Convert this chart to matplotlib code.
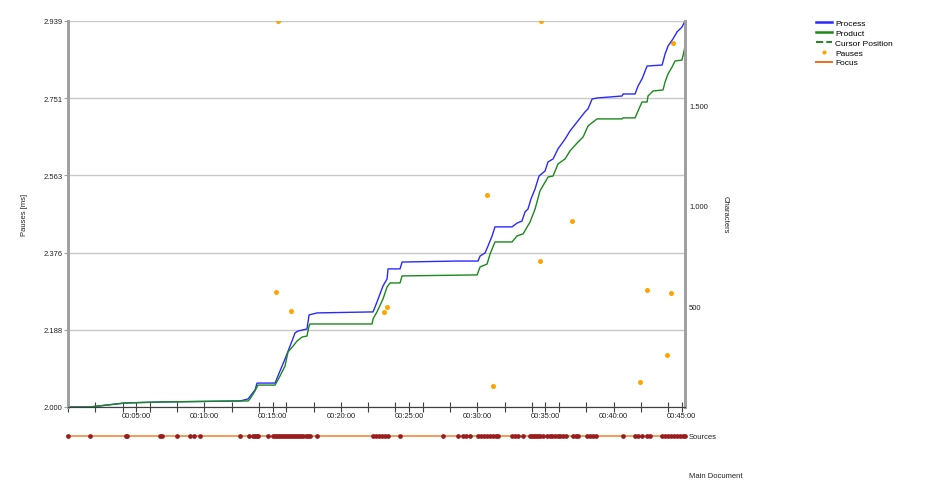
import numpy as np
import matplotlib
matplotlib.use('Agg')
import matplotlib.pyplot as plt
from matplotlib.ticker import FuncFormatter, MultipleLocator
from matplotlib.lines import Line2D

plt.rcParams['font.family'] = ['Liberation Sans', 'DejaVu Sans']

# time in minutes, characters
proc_t = [0.00, 1.61, 4.18, 6.74, 12.61, 13.20, 13.71, 13.86, 15.18, 15.54, 15.91, 16.42, 16.64, 16.86,
          17.52, 17.67, 18.26, 22.36, 22.65, 23.09, 23.39, 23.46, 24.34, 24.49, 28.52, 30.06, 30.21,
          30.57, 30.79, 31.09, 31.30, 32.55, 32.92, 33.28, 33.50, 33.72, 33.94, 34.24, 34.53, 34.97,
          35.19, 35.56, 35.92, 36.44, 36.80, 37.32, 37.90, 38.12, 38.42, 38.78, 40.62, 40.69, 41.57,
          41.79, 42.08, 42.45, 43.55, 43.77, 43.99, 44.35, 44.65, 45.01, 45.23]
proc_c = [0, 0, 20, 25, 30, 40, 85, 119, 119, 179, 239, 328, 368, 378,
          388, 458, 468, 473, 522, 602, 637, 687, 687, 721, 726, 726, 751,
          766, 801, 851, 896, 896, 915, 925, 970, 985, 1035, 1085, 1149, 1174,
          1219, 1234, 1284, 1333, 1373, 1418, 1468, 1483, 1532, 1537, 1547, 1557, 1557,
          1597, 1632, 1696, 1701, 1756, 1796, 1831, 1866, 1890, 1920]

prod_t = [0.00, 1.61, 4.18, 6.74, 12.61, 13.20, 13.34, 13.71, 13.93, 15.18, 15.54, 15.91, 16.13, 16.50,
          16.79, 17.16, 17.52, 17.67, 17.74, 22.29, 22.36, 22.65, 23.09, 23.39, 23.61, 24.34, 24.49,
          29.99, 30.21, 30.72, 30.94, 31.30, 32.55, 32.92, 33.36, 33.87, 34.24, 34.60, 35.19, 35.56,
          35.92, 36.44, 36.80, 37.32, 37.76, 38.12, 38.78, 40.62, 40.69, 41.57, 41.79, 42.08, 42.45,
          42.52, 42.89, 43.62, 43.77, 43.99, 44.28, 44.50, 45.01, 45.23]
prod_c = [0, 0, 20, 25, 30, 30, 40, 80, 109, 109, 154, 204, 274, 303,
          328, 348, 353, 403, 413, 413, 438, 473, 537, 597, 617, 617, 652,
          657, 697, 711, 761, 821, 821, 851, 861, 920, 985, 1075, 1144, 1149,
          1209, 1234, 1274, 1313, 1343, 1398, 1433, 1433, 1438, 1438, 1473, 1517, 1517,
          1547, 1572, 1577, 1617, 1657, 1691, 1721, 1726, 1791]

# pauses (minutes, ms)
pause_t = [15.40, 34.68, 44.35, 15.25, 16.35, 23.17, 23.39, 30.72, 31.16, 34.60, 36.95,
           42.45, 44.21, 43.91, 41.94]
pause_ms = [2939, 2939, 2885, 2280, 2234, 2231, 2243, 2516, 2051, 2355, 2452,
            2285, 2277, 2126, 2061]

# focus events on sources (minutes)
focus_t = [0.00, 1.61, 4.25, 4.33, 6.74, 6.89, 7.99, 8.94, 9.24, 9.68, 12.61, 13.27, 13.56, 13.71,
           13.86, 13.93, 14.66, 15.03, 15.18, 15.32, 15.47, 15.62, 15.76, 15.91, 16.06, 16.20,
           16.35, 16.50, 16.64, 16.79, 16.94, 17.08, 17.23, 17.45, 17.60, 17.74, 18.26, 22.36,
           22.58, 22.80, 23.02, 23.24, 23.46, 24.34, 27.49, 28.59, 28.96, 29.18, 29.47, 30.06,
           30.28, 30.50, 30.72, 30.94, 31.16, 31.38, 31.52, 32.55, 32.77, 32.99, 33.36, 33.87,
           34.02, 34.16, 34.31, 34.46, 34.60, 34.82, 35.12, 35.34, 35.48, 35.70, 35.92, 36.07,
           36.29, 36.51, 37.02, 37.24, 37.39, 38.05, 38.27, 38.49, 38.71, 40.69, 41.57, 41.79,
           42.08, 42.45, 42.67, 43.55, 43.77, 43.99, 44.21, 44.43, 44.65, 44.87, 45.09, 45.23]

t_max = 45.23
pause_ticks = np.linspace(2000, 2939, 6)
char_ticks = [500, 1000, 1500]

fig = plt.figure(figsize=(9.45, 4.85), dpi=100)
ax = fig.add_axes([68/945, 1-408/485, 617/945, 386/485])
ax2 = ax.twinx()

dotfmt = FuncFormatter(lambda v, p: f"{v:,.0f}".replace(",", "."))
timefmt = FuncFormatter(lambda v, p: "" if v < 1 else "%02d:%02d:%02d" % (int(v)//60, int(v) % 60, 0))

ax.plot(pause_t, pause_ms, ls='', marker='o', ms=2.6, color='#ffa500', zorder=3)
ax.set_ylim(2000, 2939)
ax.set_xlim(0, t_max)
ax.set_yticks(pause_ticks)
ax.yaxis.set_major_formatter(dotfmt)
ax.grid(axis='y', color='#c8c8c8', lw=1)
ax.set_axisbelow(True)
ax.xaxis.set_major_locator(MultipleLocator(5))
ax.xaxis.set_minor_locator(MultipleLocator(2))
ax.xaxis.set_major_formatter(timefmt)
ax.tick_params(axis='x', which='both', direction='inout', length=7, width=0.8, color='#404040',
               labelsize=5.5, pad=0, labelcolor='#222222')
ax.tick_params(axis='y', length=3, width=0.8, color='#a0a0a0', labelsize=5.5, pad=1, labelcolor='#222222')
ax.set_ylabel('Pauses [ms]', fontsize=5.5, labelpad=11, color='#222222')

ax2.plot(proc_t, proc_c, color='#2a2aff', lw=1)
ax2.plot(prod_t, prod_c, color='#1a8a1a', lw=1)
ax2.set_ylim(0, 1920)
ax2.set_yticks(char_ticks)
ax2.yaxis.set_major_formatter(dotfmt)
ax2.tick_params(axis='y', length=0, labelsize=5.5, pad=3, labelcolor='#222222')
ax2.set_ylabel('Characters', fontsize=5.5, rotation=270, labelpad=15, color='#222222')

for a in (ax, ax2):
    a.spines['top'].set_visible(False)
    a.spines['left'].set_color('#a0a0a0')
    a.spines['left'].set_linewidth(2)
    a.spines['right'].set_color('#a0a0a0')
    a.spines['right'].set_linewidth(2)
    a.spines['bottom'].set_color('#404040')
    a.spines['bottom'].set_linewidth(0.8)

# sources strip
axs = fig.add_axes([66/945, 1-445/485, 619/945, 16/485])
axs.set_xlim(-0.15, t_max)
axs.set_ylim(-1, 1)
axs.axhline(0, color='#f08a3c', lw=1.2)
axs.plot(focus_t, np.zeros(len(focus_t)), ls='', marker='o', ms=2.4, color='#9b1c1c', clip_on=False)
axs.axis('off')
fig.text(689/945, 1-438/485, 'Sources', fontsize=5.5, va='center', ha='left', color='#222222')
fig.text(689/945, 1-477/485, 'Main Document', fontsize=5.5, va='center', ha='left', color='#222222')

handles = [Line2D([], [], color='#2a2aff', lw=1.8),
           Line2D([], [], color='#1a8a1a', lw=1.8),
           Line2D([], [], color='#1a8a1a', lw=1.4, ls='--'),
           Line2D([], [], color='#ffa500', ls='', marker='o', ms=2),
           Line2D([], [], color='#f06a1c', lw=1.4)]
labels = ['Process', 'Product', 'Cursor Position', 'Pauses', 'Focus']
fig.legend(handles, labels, loc='upper left', bbox_to_anchor=(816/945, 1-20/485), frameon=False,
           fontsize=6, handlelength=1.9, handletextpad=0.4, labelspacing=0.25, borderpad=0,
           borderaxespad=0)

fig.savefig('out.png', dpi=100)
